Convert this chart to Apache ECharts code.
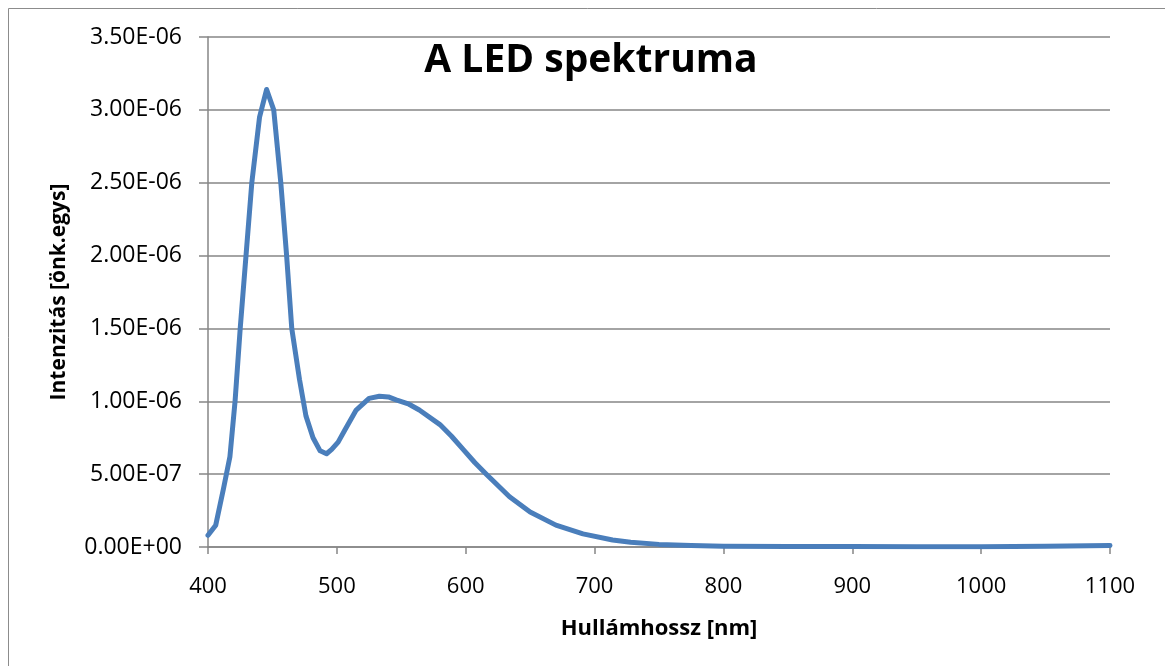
<!DOCTYPE html>
<html>
<head>
<meta charset="utf-8">
<script src="https://cdn.jsdelivr.net/npm/echarts@6/dist/echarts.min.js"></script>
<style>
  html, body { margin: 0; padding: 0; background: #fff; }
  #chart { width: 1165px; height: 666px; }
</style>
</head>
<body>
<div id="chart"></div>
<script>
// wavelength [nm]
const wavelength = [400, 406, 412, 417, 421, 425, 429.5, 434, 440, 445.5, 451, 456.5, 461, 465, 471, 476, 481.5, 487, 492, 496,
  501, 506, 515, 525, 533, 540, 546, 556, 564, 580, 589, 598, 607, 616, 634, 650, 670, 691, 714, 728, 750, 775, 800,
  850, 900, 950, 1000, 1050, 1100]
// intensity, in units of 1E-06
const intensity = [0.08, 0.15, 0.40, 0.62, 1.00, 1.50, 2.00, 2.50, 2.95, 3.14, 3.00, 2.50, 2.00, 1.50, 1.15, 0.90, 0.75, 0.66, 0.64, 0.67,
  0.72, 0.80, 0.94, 1.02, 1.035, 1.03, 1.01, 0.98, 0.94, 0.84, 0.76, 0.67, 0.58, 0.50, 0.345, 0.24, 0.15, 0.09, 0.048, 0.032, 0.018, 0.01, 0.006,
  0.004, 0.003, 0.002, 0.002, 0.005, 0.010]

const titleText = 'A LED spektruma'
const xTitle = 'Hullámhossz [nm]'
const yTitle = 'Intenzitás [önk.egys]'

const font = '"Open Sans", sans-serif'
const gridColor = '#868686'

function sci(v) {
  if (v === 0) return '0.00E+00'
  const [m, e] = v.toExponential(2).split('e')
  const n = parseInt(e, 10)
  return m + 'E' + (n < 0 ? '-' : '+') + String(Math.abs(n)).padStart(2, '0')
}

const chart = echarts.init(document.getElementById('chart'))
chart.setOption({
  animation: false,
  backgroundColor: '#fff',
  graphic: [
    { type: 'rect', shape: { x: 8.5, y: 8.5, width: 1200, height: 700 }, style: { fill: 'none', stroke: '#8c8c8c', lineWidth: 1 } },
  ],
  title: {
    text: titleText,
    left: 586,
    top: 36,
    textAlign: 'center',
    textStyle: { fontFamily: font, fontWeight: 'bold', fontSize: 39, color: '#000' },
  },
  grid: { left: 208, right: 55, top: 37, bottom: 119 },
  xAxis: {
    type: 'value',
    min: 400,
    max: 1100,
    interval: 100,
    name: xTitle,
    nameLocation: 'middle',
    nameGap: 71,
    nameTextStyle: { fontFamily: font, fontWeight: 'bold', fontSize: 22, color: '#000' },
    axisLine: { lineStyle: { color: gridColor, width: 1.5 } },
    axisTick: { show: true, length: 7, lineStyle: { color: gridColor, width: 1.5 } },
    axisLabel: { fontFamily: font, fontSize: 22, color: '#000', margin: 29, formatter: (v) => String(v) },
    splitLine: { show: false },
  },
  yAxis: {
    type: 'value',
    min: 0,
    max: 3.5e-6,
    interval: 0.5e-6,
    name: yTitle,
    nameLocation: 'middle',
    nameGap: 138,
    nameRotate: 90,
    nameTextStyle: { fontFamily: font, fontWeight: 'bold', fontSize: 21, color: '#000' },
    axisLine: { show: true, lineStyle: { color: gridColor, width: 1.5 } },
    axisTick: { show: true, length: 9, lineStyle: { color: gridColor, width: 1.5 } },
    axisLabel: { fontFamily: font, fontSize: 23, color: '#000', margin: 26, formatter: sci },
    splitLine: { lineStyle: { color: gridColor, width: 1.5 } },
  },
  series: [
    {
      type: 'line',
      data: wavelength.map((w, i) => [w, intensity[i] * 1e-6]),
      showSymbol: false,
      lineStyle: { color: '#4a7ebb', width: 5, cap: 'round', join: 'round' },
    },
  ],
})
</script>
</body>
</html>
